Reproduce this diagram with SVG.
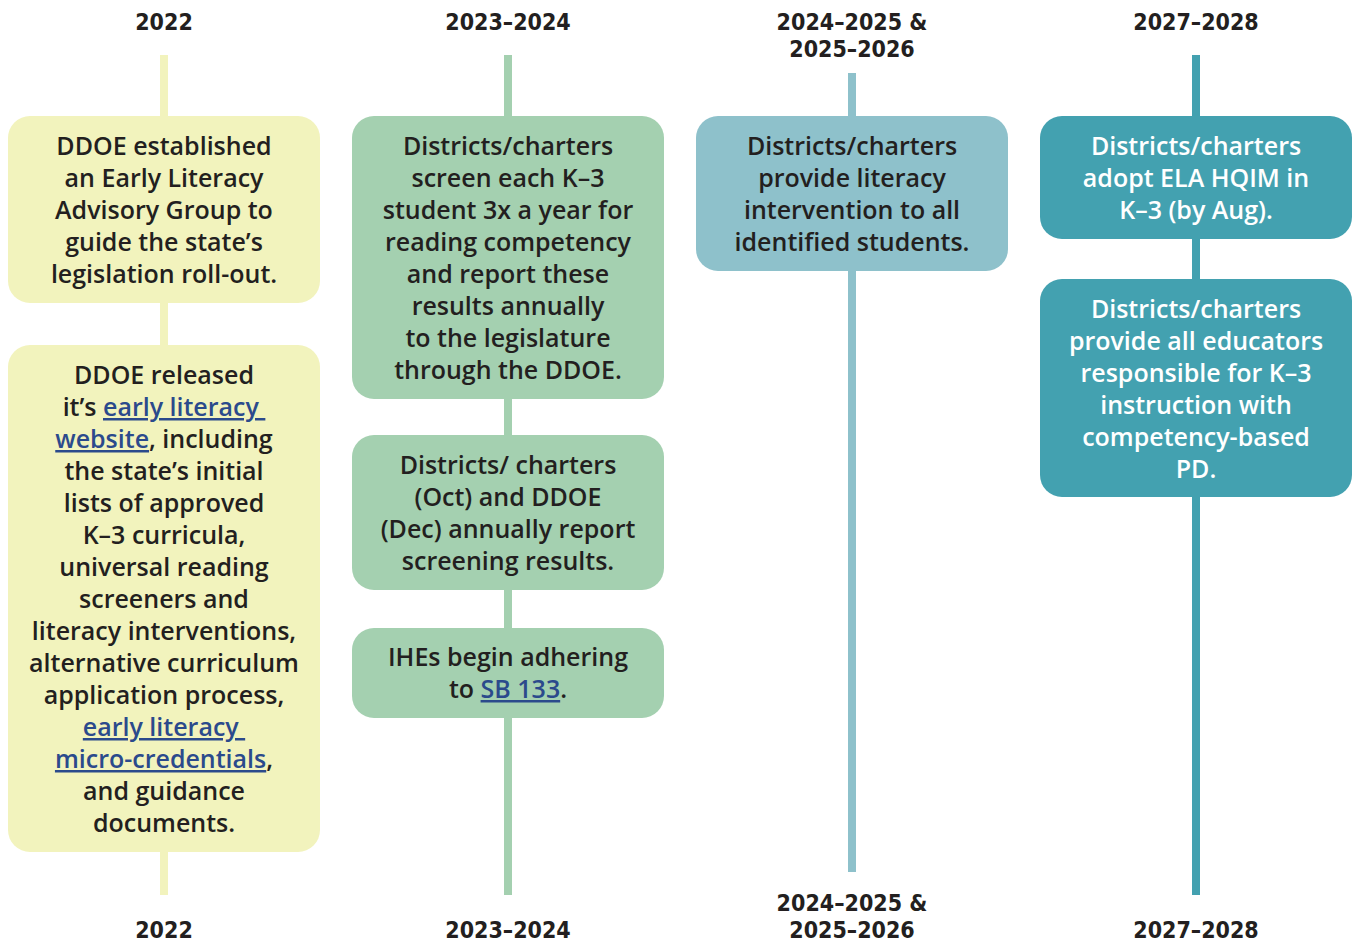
<svg xmlns="http://www.w3.org/2000/svg" width="1353" height="942" viewBox="0 0 1353 942">
<style>
.hd{font-family:"DejaVu Sans Condensed","DejaVu Sans",sans-serif;font-stretch:condensed;font-weight:700;font-size:23px;fill:#231f20;text-anchor:middle}
.tx{font-family:"Open Sans","Noto Sans",sans-serif;font-weight:600;font-size:25px;fill:#231f20;text-anchor:middle}
.w{fill:#ffffff}
.lk{fill:#2b4a8c;text-decoration:underline}
.c1{fill:#f2f3bd}.c2{fill:#a4d0b0}.c3{fill:#8ec1cb}.c4{fill:#43a1b0}
</style>
<rect width="1353" height="942" fill="#ffffff"/>
<g id="connectors">
<rect class="c1" x="160" y="55" width="8" height="840"/>
<rect class="c2" x="504" y="55" width="8" height="840"/>
<rect class="c3" x="848" y="73" width="8" height="799"/>
<rect class="c4" x="1192" y="55" width="8" height="840"/>
</g>
<g id="headers">
<text class="hd" x="164" y="30">2022</text>
<text class="hd" x="508" y="30">2023–2024</text>
<text class="hd" x="852" y="30">2024–2025 &amp;</text>
<text class="hd" x="852" y="57">2025–2026</text>
<text class="hd" x="1196" y="30">2027–2028</text>
<text class="hd" x="164" y="938">2022</text>
<text class="hd" x="508" y="938">2023–2024</text>
<text class="hd" x="852" y="911">2024–2025 &amp;</text>
<text class="hd" x="852" y="938">2025–2026</text>
<text class="hd" x="1196" y="938">2027–2028</text>
</g>
<g id="n1">
<rect class="c1" x="8" y="116" width="312" height="187" rx="22"/>
<text class="tx"><tspan x="164" y="155">DDOE established</tspan><tspan x="164" y="187">an Early Literacy</tspan><tspan x="164" y="219">Advisory Group to</tspan><tspan x="164" y="251">guide the state’s</tspan><tspan x="164" y="283">legislation roll-out.</tspan></text>
</g>
<g id="n2">
<rect class="c1" x="8" y="345" width="312" height="507" rx="22"/>
<text class="tx"><tspan x="164" y="384">DDOE released</tspan><tspan x="164" y="416">it’s <tspan class="lk">early literacy </tspan></tspan><tspan x="164" y="448"><tspan class="lk">website</tspan>, including</tspan><tspan x="164" y="480">the state’s initial</tspan><tspan x="164" y="512">lists of approved</tspan><tspan x="164" y="544">K–3 curricula,</tspan><tspan x="164" y="576">universal reading</tspan><tspan x="164" y="608">screeners and</tspan><tspan x="164" y="640">literacy interventions,</tspan><tspan x="164" y="672">alternative curriculum</tspan><tspan x="164" y="704">application process,</tspan><tspan x="164" y="736"><tspan class="lk">early literacy </tspan></tspan><tspan x="164" y="768"><tspan class="lk">micro-credentials</tspan>,</tspan><tspan x="164" y="800">and guidance</tspan><tspan x="164" y="832">documents.</tspan></text>
</g>
<g id="n3">
<rect class="c2" x="352" y="116" width="312" height="283" rx="22"/>
<text class="tx"><tspan x="508" y="155">Districts/charters</tspan><tspan x="508" y="187">screen each K–3</tspan><tspan x="508" y="219">student 3x a year for</tspan><tspan x="508" y="251">reading competency</tspan><tspan x="508" y="283">and report these</tspan><tspan x="508" y="315">results annually</tspan><tspan x="508" y="347">to the legislature</tspan><tspan x="508" y="379">through the DDOE.</tspan></text>
</g>
<g id="n4">
<rect class="c2" x="352" y="435" width="312" height="155" rx="22"/>
<text class="tx"><tspan x="508" y="474">Districts/ charters</tspan><tspan x="508" y="506">(Oct) and DDOE</tspan><tspan x="508" y="538">(Dec) annually report</tspan><tspan x="508" y="570">screening results.</tspan></text>
</g>
<g id="n5">
<rect class="c2" x="352" y="628" width="312" height="90" rx="22"/>
<text class="tx"><tspan x="508" y="666">IHEs begin adhering</tspan><tspan x="508" y="698">to <tspan class="lk">SB 133</tspan>.</tspan></text>
</g>
<g id="n6">
<rect class="c3" x="696" y="116" width="312" height="155" rx="22"/>
<text class="tx"><tspan x="852" y="155">Districts/charters</tspan><tspan x="852" y="187">provide literacy</tspan><tspan x="852" y="219">intervention to all</tspan><tspan x="852" y="251">identified students.</tspan></text>
</g>
<g id="n7">
<rect class="c4" x="1040" y="116" width="312" height="123" rx="22"/>
<text class="tx w"><tspan x="1196" y="155">Districts/charters</tspan><tspan x="1196" y="187">adopt ELA HQIM in</tspan><tspan x="1196" y="219">K–3 (by Aug).</tspan></text>
</g>
<g id="n8">
<rect class="c4" x="1040" y="279" width="312" height="218" rx="22"/>
<text class="tx w"><tspan x="1196" y="318">Districts/charters</tspan><tspan x="1196" y="350">provide all educators</tspan><tspan x="1196" y="382">responsible for K–3</tspan><tspan x="1196" y="414">instruction with</tspan><tspan x="1196" y="446">competency-based</tspan><tspan x="1196" y="478">PD.</tspan></text>
</g>
</svg>
